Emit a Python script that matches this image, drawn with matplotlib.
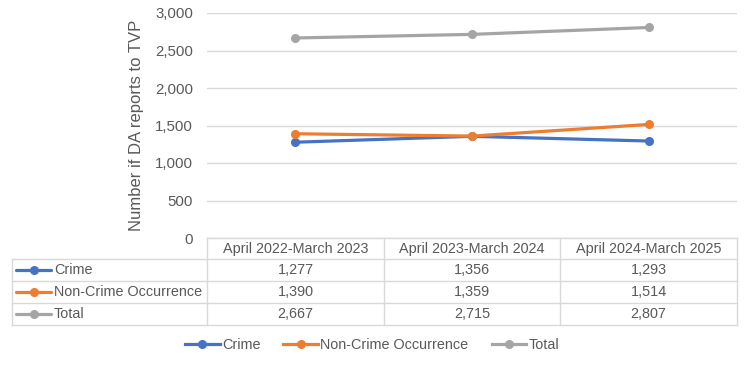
import matplotlib.pyplot as plt
from matplotlib.lines import Line2D

plt.rcParams['font.family'] = ['Liberation Sans', 'DejaVu Sans']

# Data
periods = ['April 2022-March 2023', 'April 2023-March 2024', 'April 2024-March 2025']
series_names = ['Crime', 'Non-Crime Occurrence', 'Total']
crime = [1277, 1356, 1293]
non_crime = [1390, 1359, 1514]
total = [2667, 2715, 2807]
colors = ['#4472C4', '#ED7D31', '#A5A5A5']

TEXT = '#595959'
GRID = '#D9D9D9'
W, H = 750, 365
FS = 10.4

fig = plt.figure(figsize=(7.5, 3.65), dpi=100)
# plot area in pixels: x 207..737, y 13..238
ax = fig.add_axes([207 / W, 1 - 238 / H, 530 / W, 225 / H])

xs = [i + 0.5 for i in range(len(periods))]
for vals, c, name in zip([crime, non_crime, total], colors, series_names):
    ax.plot(xs, vals, color=c, lw=2.3, marker='o', ms=5.5, label=name,
            solid_capstyle='round', zorder=3)

ax.set_xlim(0, 3)
ax.set_ylim(0, 3000)
ax.set_yticks(range(0, 3001, 500))
ax.set_yticklabels([f'{v:,}' for v in range(0, 3001, 500)])
ax.tick_params(axis='y', length=0, labelsize=10.8, labelcolor=TEXT, pad=10)
ax.tick_params(axis='x', length=0, labelbottom=False)
ax.grid(axis='y', color=GRID, lw=1)
ax.set_axisbelow(True)
for s in ax.spines.values():
    s.set_visible(False)
ax.set_ylabel('Number if DA reports to TVP', fontsize=12, color=TEXT, labelpad=8)

# data table drawn below the plot area (pixel coordinates)
def fx(px):
    return px / W

def fy(py):
    return 1 - py / H

col_edges = [207, 384, 560, 737]
row_edges = [238, 259, 281, 303, 325]
left = 12

# horizontal lines
fig.add_artist(Line2D([fx(col_edges[0]), fx(col_edges[-1])], [fy(row_edges[0])] * 2, color=GRID, lw=1))
for ry in row_edges[1:]:
    fig.add_artist(Line2D([fx(left), fx(col_edges[-1])], [fy(ry)] * 2, color=GRID, lw=1))
# vertical lines
fig.add_artist(Line2D([fx(left)] * 2, [fy(row_edges[1]), fy(row_edges[-1])], color=GRID, lw=1))
for cx in col_edges:
    fig.add_artist(Line2D([fx(cx)] * 2, [fy(row_edges[0]), fy(row_edges[-1])], color=GRID, lw=1))

# header
for i, p in enumerate(periods):
    cx = (col_edges[i] + col_edges[i + 1]) / 2
    cy = (row_edges[0] + row_edges[1]) / 2
    fig.text(fx(cx), fy(cy), p, ha='center', va='center', fontsize=FS, color=TEXT)

# rows
for r, (vals, c, name) in enumerate(zip([crime, non_crime, total], colors, series_names)):
    cy = (row_edges[r + 1] + row_edges[r + 2]) / 2
    fig.add_artist(Line2D([fx(16), fx(51)], [fy(cy)] * 2, color=c, lw=2.3,
                          solid_capstyle='round'))
    fig.add_artist(Line2D([fx(33.5)], [fy(cy)], color=c, marker='o', ms=5.5))
    fig.text(fx(54), fy(cy), name, ha='left', va='center', fontsize=FS, color=TEXT)
    for i, v in enumerate(vals):
        cx = (col_edges[i] + col_edges[i + 1]) / 2
        fig.text(fx(cx), fy(cy), f'{v:,}', ha='center', va='center', fontsize=FS, color=TEXT)

# legend
handles = [Line2D([], [], color=c, lw=2.3, marker='o', ms=5.5) for c in colors]
fig.legend(handles, series_names, loc='center', bbox_to_anchor=(fx(372), fy(345)),
           ncol=3, frameon=False, fontsize=FS, labelcolor=TEXT, handlelength=2.4,
           handletextpad=0.15, columnspacing=1.6)

fig.savefig('out.png', dpi=100, facecolor='white')
